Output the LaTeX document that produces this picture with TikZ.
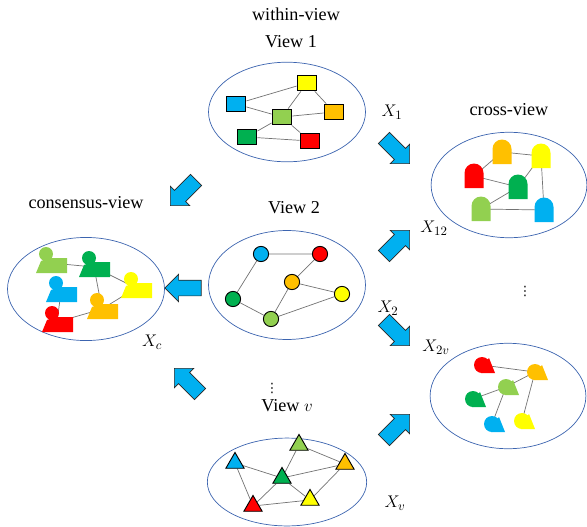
\documentclass[tikz,border=0pt]{standalone}
\usepackage{fontspec}
\setmainfont{Liberation Serif}
\newfontfamily\symfont{DejaVu Sans}
\usetikzlibrary{shapes.geometric, shapes.arrows, backgrounds}

\definecolor{mkblue}{RGB}{0,176,240}
\definecolor{mkyellow}{RGB}{255,255,0}
\definecolor{mklime}{RGB}{146,208,80}
\definecolor{mkorange}{RGB}{255,192,0}
\definecolor{mkgreen}{RGB}{0,176,80}
\definecolor{mkred}{RGB}{255,0,0}
\definecolor{ringblue}{RGB}{60,100,175}

% marks without outline, drawn round a named coordinate
\newcommand{\archmark}[2]{\fill[#2, shift={(#1)}] (-9.5,12) -- (-9.5,-3) arc (180:360:9.5) -- (9.5,12) -- cycle;}
\newcommand{\headmark}[2]{%
  \fill[#2, shift={(#1)}] (-5,-9) circle (7);
  \fill[#2, shift={(#1)}] (-15,10) -- (-10,-2) -- (-2,-5) -- (16,-5) -- (16,10) -- cycle;}
\newcommand{\dropmark}[2]{%
  \fill[#2, shift={(#1)}] (0,0) circle (8);
  \fill[#2, shift={(#1)}] (0,0) -- (-1,8) -- (13,8) -- (7,-7) -- cycle;}

\begin{document}
\begin{tikzpicture}[x=0.03cm, y=-0.03cm,
    font=\fontsize{15.5}{18}\selectfont,
    ring/.style={ellipse, draw=ringblue, line width=0.6pt, inner sep=0pt, minimum width=134pt, minimum height=88pt},
    sq/.style={rectangle, draw=black, line width=0.8pt, minimum width=17pt, minimum height=13.5pt, inner sep=0pt},
    dot/.style={circle, draw=black, line width=0.8pt, minimum size=13pt, inner sep=0pt},
    tri/.style={regular polygon, regular polygon sides=3, draw=black, line width=0.8pt, minimum size=18pt, inner sep=0pt},
    link/.style={draw=black!55, line width=0.6pt},
    more/.style={inner sep=0pt, font=\symfont\fontsize{11}{11}\selectfont},
    bigarrow/.style={single arrow, draw=black!85, fill=mkblue, line width=0.6pt, inner xsep=0pt, inner ysep=6.4pt, minimum height=31pt, single arrow head extend=5pt}
  ]
  \useasboundingbox (0,0) rectangle (587,526);

  % Rings
  \node[ring, minimum height=85pt] (view1) at (287,112) {};
  \node[ring, minimum height=93pt] (view2) at (287,285) {};
  \node[ring, minimum height=75pt, minimum width=136pt] (viewv) at (287,482) {};
  \node[ring, minimum width=133pt, minimum height=90pt] (cross) at (509,185) {};
  \node[ring, minimum width=133pt, minimum height=90pt] (crossv) at (508,396) {};
  \node[ring] (consensus) at (86,289) {};

  % Titles and labels
  \node (within) at (296,14) {within-view};
  \node (t1) at (291,42) {View 1};
  \node (t2) at (294,208) {View 2};
  \node (tv) at (287,406) {View $v$};
  \node (tcross) at (509,110) {cross-view};
  \node (tcons) at (86,203) {consensus-view};
  \node (x1) at (392,112) {$X_1$};
  \node (x12) at (434,228) {$X_{12}$};
  \node (x2) at (388,308) {$X_2$};
  \node (x2v) at (436,347) {$X_{2v}$};
  \node (xc) at (152,342) {$X_c$};
  \node (xv) at (395,503) {$X_v$};
  \node[more] (vd1) at (272,388) {⋮};
  \node[more] (vd2) at (525,291) {⋮};

  % Flow arrows
  \node[bigarrow, rotate=-45] (a1) at (394,148) {};
  \node[bigarrow, rotate=45] (a2) at (394,246) {};
  \node[bigarrow, rotate=-45] (a3) at (394,330) {};
  \node[bigarrow, rotate=45] (a4) at (394,430) {};
  \node[bigarrow, rotate=-135] (a5) at (186,190) {};
  \node[bigarrow, rotate=180] (a6) at (187,288) {};
  \node[bigarrow, rotate=135] (a7) at (190,384) {};

  % View 1: squares
  \node[sq, fill=mkblue] (s1) at (236,104) {};
  \node[sq, fill=mkyellow] (s2) at (307,83) {};
  \node[sq, fill=mklime] (s3) at (282,117) {};
  \node[sq, fill=mkorange] (s4) at (334,112) {};
  \node[sq, fill=mkgreen] (s5) at (247,137) {};
  \node[sq, fill=mkred] (s6) at (310,141) {};

  % View 2: circles
  \node[dot, fill=mkblue] (c1) at (261,254) {};
  \node[dot, fill=mkred] (c2) at (320,254) {};
  \node[dot, fill=mkorange] (c3) at (292,282) {};
  \node[dot, fill=mkgreen] (c4) at (233,299) {};
  \node[dot, fill=mkyellow] (c5) at (342,294) {};
  \node[dot, fill=mklime] (c6) at (271,319) {};

  % View v: triangles
  \node[tri, fill=mklime] (v1) at (299,445) {};
  \node[tri, fill=mkblue] (v2) at (235,463) {};
  \node[tri, fill=mkorange] (v3) at (345,464) {};
  \node[tri, fill=mkgreen] (v4) at (282,478) {};
  \node[tri, fill=mkyellow] (v5) at (310,500) {};
  \node[tri, fill=mkred] (v6) at (253,506) {};

  \begin{scope}[on background layer]
    \draw[link] (s1) -- (s2) (s1) -- (s3) (s3) -- (s2) (s2) -- (s4)
      (s3) -- (s4) (s3) -- (s5) (s3) -- (s6) (s5) -- (s6);
    \draw[link] (c1) -- (c2) (c1) -- (c4) (c2) -- (c3) (c3) -- (c5)
      (c3) -- (c6) (c4) -- (c6) (c6) -- (c5);
    \draw[link] (v2) -- (v4) (v2) -- (v6) (v1) -- (v4) (v1) -- (v3)
      (v4) -- (v3) (v6) -- (v4) (v4) -- (v5) (v6) -- (v5) (v5) -- (v3);
  \end{scope}

  % cross-view marks
  \coordinate (k1) at (502,152);
  \coordinate (k2) at (541,156);
  \coordinate (k3) at (474,176);
  \coordinate (k4) at (518,187);
  \coordinate (k5) at (481,209);
  \coordinate (k6) at (544,210);
  \draw[link] (k1) -- (k2) (k1) -- (k3) (k3) -- (k4) (k4) -- (k2)
    (k4) -- (k5) (k5) -- (k6) (k2) -- (k6);
  \archmark{k1}{mkorange}
  \archmark{k2}{mkyellow}
  \archmark{k3}{mkred}
  \archmark{k4}{mkgreen}
  \archmark{k5}{mklime}
  \archmark{k6}{mkblue}

  % consensus marks
  \coordinate (h1) at (51,263);
  \coordinate (h2) at (94,267);
  \coordinate (h3) at (61,292);
  \coordinate (h4) at (136,288);
  \coordinate (h5) at (102,309);
  \coordinate (h6) at (57,322);
  \draw[link] (h1) -- (h2) (h2) -- (h4) (h2) -- (h5) (h3) -- (h6)
    (h5) -- (h4) (h6) -- (h5);
  \headmark{h1}{mklime}
  \headmark{h2}{mkgreen}
  \headmark{h3}{mkblue}
  \headmark{h4}{mkyellow}
  \headmark{h5}{mkorange}
  \headmark{h6}{mkred}

  % cross-view 2v marks
  \coordinate (d1) at (482,365);
  \coordinate (d2) at (535,372);
  \coordinate (d3) at (506,387);
  \coordinate (d4) at (473,399);
  \coordinate (d5) at (492,424);
  \coordinate (d6) at (522,421);
  \draw[link] (d1) -- (d2) (d2) -- (d3) (d3) -- (d4) (d3) -- (d5) (d2) -- (d6);
  \dropmark{d1}{mkred}
  \dropmark{d2}{mkorange}
  \dropmark{d3}{mklime}
  \dropmark{d4}{mkgreen}
  \dropmark{d5}{mkblue}
  \dropmark{d6}{mkyellow}
\end{tikzpicture}
\end{document}
